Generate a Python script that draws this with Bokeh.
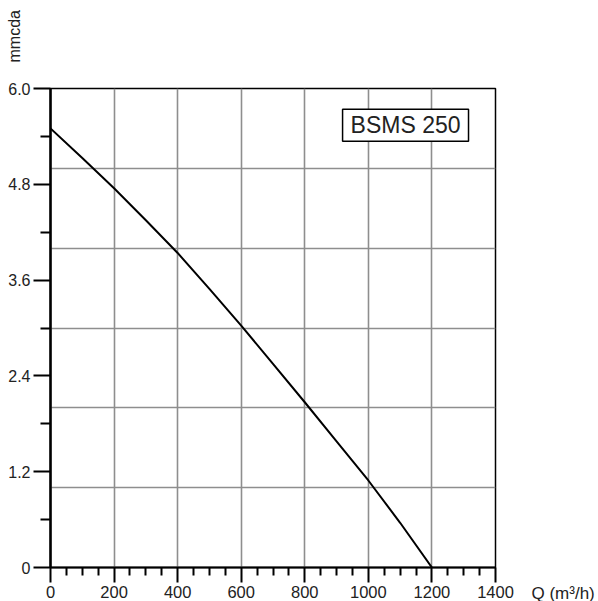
import numpy as np
from bokeh.plotting import figure
from bokeh.models import FixedTicker, Label, Range1d
from bokeh.core.properties import value
from bokeh.embed import file_html
from bokeh.resources import INLINE

# Data
flow_q = [0, 100, 200, 300, 400, 500, 600, 700, 800, 900, 1000, 1100, 1200]
head_h = [5.50, 5.13, 4.75, 4.35, 3.94, 3.49, 3.03, 2.55, 2.07, 1.58, 1.09, 0.56, 0.0]

x_major = [0, 200, 400, 600, 800, 1000, 1200, 1400]
x_minor = [v for v in range(0, 1401, 50) if v % 200 != 0]
x_grid = [200, 400, 600, 800, 1000, 1200]
y_major = [0, 1.2, 2.4, 3.6, 4.8, 6.0]
y_major_labels = ["0", "1.2", "2.4", "3.6", "4.8", "6.0"]
y_minor = [0.6, 1.8, 3.0, 4.2, 5.4]
y_grid = [1, 2, 3, 4, 5]

model_name = "BSMS 250"
y_title = "mmcda"
x_title = "Q (m³/h)"

FONT = "Liberation Sans"

p = figure(width=598, height=601, output_backend="svg", toolbar_location=None,
           x_range=Range1d(0, 1400), y_range=Range1d(0, 6.0),
           min_border_left=50, min_border_top=88, min_border_right=103, min_border_bottom=34)

p.background_fill_color = "white"
p.border_fill_color = "white"
p.outline_line_color = "black"
p.outline_line_width = 1.5

# grids
p.xgrid.ticker = FixedTicker(ticks=x_grid)
p.ygrid.ticker = FixedTicker(ticks=y_grid)
for g in (p.xgrid, p.ygrid):
    g.grid_line_color = "#8e8e8e"
    g.grid_line_width = 1.6

# x axis
xa = p.xaxis[0]
xa.ticker = FixedTicker(ticks=x_major, minor_ticks=x_minor)
xa.axis_line_color = "black"
xa.axis_line_width = 2
xa.major_tick_line_color = "black"
xa.major_tick_line_width = 2
xa.minor_tick_line_color = "black"
xa.minor_tick_line_width = 2
xa.major_tick_in = 0
xa.major_tick_out = 15
xa.minor_tick_in = 0
xa.minor_tick_out = 8
xa.major_label_standoff = 3
xa.major_label_text_font = FONT
xa.major_label_text_font_size = "16.5px"
xa.major_label_text_color = "#222222"

# y axis
ya = p.yaxis[0]
ya.ticker = FixedTicker(ticks=y_major, minor_ticks=y_minor)
ya.major_label_overrides = {v: s for v, s in zip(y_major, y_major_labels)}
ya.axis_line_color = "black"
ya.axis_line_width = 2.5
ya.major_tick_line_color = "black"
ya.major_tick_line_width = 2
ya.minor_tick_line_color = "black"
ya.minor_tick_line_width = 2
ya.major_tick_in = 0
ya.major_tick_out = 17
ya.minor_tick_in = 0
ya.minor_tick_out = 10
ya.major_label_standoff = 3
ya.major_label_text_font = FONT
ya.major_label_text_font_size = "16px"
ya.major_label_text_color = "#222222"

# curve
p.line(flow_q, head_h, line_color="black", line_width=2)

# model label box
p.add_layout(Label(x=1117, y=5.54, text=model_name, text_align="center", text_baseline="middle",
                   text_font=FONT, text_font_size="23px", text_color="#222222",
                   background_fill_color="white", border_line_color="black", border_line_width=1.5,
                   padding=dict(left=8, right=8, top=3, bottom=3)))

# axis titles as text glyphs on the overlay level (outside the frame)
p.text(x=[x_major[0]], y=[y_major[-1]], text=[y_title], angle=np.pi / 2,
       x_offset=-36, y_offset=-26, text_align="left", text_baseline="middle",
       text_font=value(FONT), text_font_size="16px", text_color="#222222", level="overlay")
p.text(x=[x_major[-1]], y=[y_major[0]], text=[x_title],
       x_offset=36, y_offset=16, text_align="left", text_baseline="top",
       text_font=value(FONT), text_font_size="17px", text_color="#222222", level="overlay")

open("out.html", "w").write(file_html(p, INLINE))
